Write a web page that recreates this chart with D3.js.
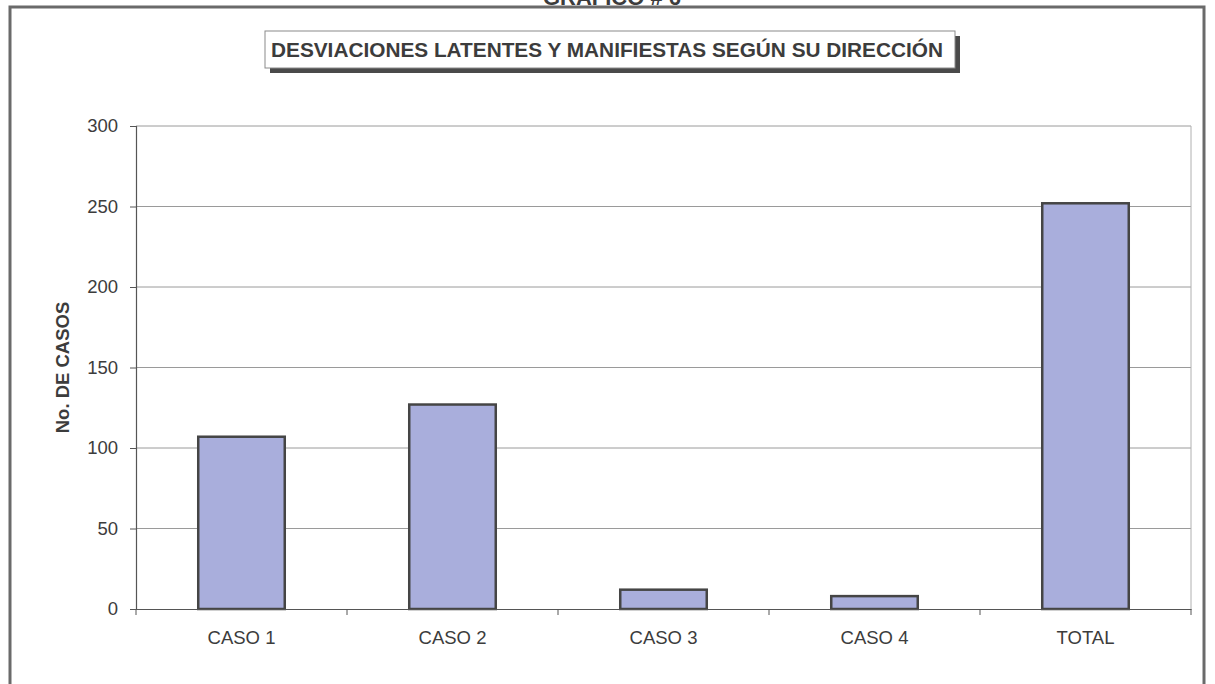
<!DOCTYPE html>
<html>
<head>
<meta charset="utf-8">
<script src="https://cdn.jsdelivr.net/npm/d3@7"></script>
<style>
  body { margin: 0; background: #fff; }
  svg { display: block; font-family: "Liberation Sans", Arial, sans-serif; }
</style>
</head>
<body>
<svg id="chart" width="1215" height="684"></svg>
<script>
'use strict';

const categories = ['CASO 1', 'CASO 2', 'CASO 3', 'CASO 4', 'TOTAL'];
const casos = [107, 127, 12, 8, 252];
const yTicks = [0, 50, 100, 150, 200, 250, 300];

const pageTitle = 'GRAFICO # 6';
const chartTitle = 'DESVIACIONES LATENTES Y MANIFIESTAS SEGÚN SU DIRECCIÓN';
const yTitle = 'No. DE CASOS';

const plot = { left: 136, right: 1191, top: 126, bottom: 609 };
const textColor = '#3c3c3c';
const fontFamily = '"Liberation Sans", Arial, sans-serif';

const svg = d3.select('#chart');

// outer frame of the chart sheet
svg.append('rect')
  .attr('x', 10).attr('y', 7)
  .attr('width', 1194).attr('height', 700)
  .attr('fill', 'none')
  .attr('stroke', '#6a6a6a')
  .attr('stroke-width', 3);

// page heading, cut off by the top of the image like in the scan
svg.append('text')
  .attr('x', 612).attr('y', 5)
  .attr('text-anchor', 'middle')
  .attr('font-size', 22)
  .attr('font-weight', 'bold')
  .attr('fill', textColor)
  .text(pageTitle);

// title box with shadow
const titleBox = { x: 265, y: 31, w: 690, h: 37 };
svg.append('rect')
  .attr('x', titleBox.x + 5).attr('y', titleBox.y + 5)
  .attr('width', titleBox.w).attr('height', titleBox.h)
  .attr('fill', '#4a4a4a');
svg.append('rect')
  .attr('x', titleBox.x).attr('y', titleBox.y)
  .attr('width', titleBox.w).attr('height', titleBox.h)
  .attr('fill', '#fff')
  .attr('stroke', '#8a8a8a')
  .attr('stroke-width', 1);
svg.append('text')
  .attr('x', titleBox.x + titleBox.w / 2 - 3).attr('y', titleBox.y + 26)
  .attr('text-anchor', 'middle')
  .attr('font-size', 20.5)
  .attr('font-weight', 'bold')
  .attr('fill', textColor)
  .attr('textLength', 672)
  .attr('lengthAdjust', 'spacingAndGlyphs')
  .text(chartTitle);

const x = d3.scaleBand()
  .domain(categories)
  .range([plot.left, plot.right])
  .paddingInner(0.59)
  .paddingOuter(0.295);

const y = d3.scaleLinear()
  .domain([0, 300])
  .range([plot.bottom, plot.top]);

// gridlines
svg.append('g')
  .selectAll('line')
  .data(yTicks.filter(t => t > 0))
  .join('line')
  .attr('x1', plot.left).attr('x2', plot.right)
  .attr('y1', d => y(d)).attr('y2', d => y(d))
  .attr('stroke', '#9a9a9a')
  .attr('stroke-width', 1);

// right edge of the plot area
svg.append('line')
  .attr('x1', plot.right).attr('x2', plot.right)
  .attr('y1', plot.top).attr('y2', plot.bottom)
  .attr('stroke', '#b0b0b0');

// bars
svg.append('g')
  .selectAll('rect')
  .data(casos)
  .join('rect')
  .attr('x', (d, i) => x(categories[i]))
  .attr('y', d => y(d))
  .attr('width', x.bandwidth())
  .attr('height', d => y(0) - y(d))
  .attr('fill', '#a9aedc')
  .attr('stroke', '#454545')
  .attr('stroke-width', 2.5);

// y axis
const yAxis = svg.append('g')
  .attr('transform', `translate(${plot.left},0)`)
  .call(d3.axisLeft(y).tickValues(yTicks).tickSize(6).tickPadding(12));
yAxis.select('.domain').attr('stroke', '#555').attr('stroke-width', 1.2);
yAxis.selectAll('.tick line').attr('stroke', '#555');
yAxis.selectAll('.tick text')
  .attr('font-size', 18.5)
  .attr('fill', textColor)
  .attr('font-family', fontFamily);

// x axis: ticks at category boundaries
const xAxis = svg.append('g')
  .attr('transform', `translate(0,${plot.bottom})`)
  .call(d3.axisBottom(x).tickSize(0).tickPadding(22));
xAxis.select('.domain').attr('stroke', '#555').attr('stroke-width', 1.2);
xAxis.selectAll('.tick text')
  .attr('font-size', 18.5)
  .attr('fill', textColor)
  .attr('font-family', fontFamily);

const step = x.step();
svg.append('g')
  .selectAll('line')
  .data(d3.range(categories.length + 1))
  .join('line')
  .attr('x1', i => plot.left + i * step)
  .attr('x2', i => plot.left + i * step)
  .attr('y1', plot.bottom)
  .attr('y2', plot.bottom + 6)
  .attr('stroke', '#555');

// y axis title
svg.append('text')
  .attr('transform', `translate(69,${(plot.top + plot.bottom) / 2}) rotate(-90)`)
  .attr('text-anchor', 'middle')
  .attr('font-size', 18.5)
  .attr('font-weight', 'bold')
  .attr('fill', textColor)
  .text(yTitle);
</script>
</body>
</html>
